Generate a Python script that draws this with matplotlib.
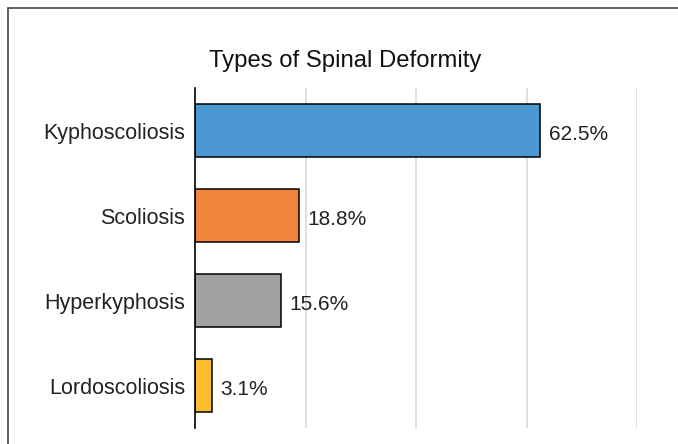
import matplotlib.pyplot as plt
from matplotlib.patches import Rectangle

# Data
categories = ['Kyphoscoliosis', 'Scoliosis', 'Hyperkyphosis', 'Lordoscoliosis']
percent = [62.5, 18.8, 15.6, 3.1]
colors = ['#4B98D3', '#F3843B', '#A2A2A2', '#FCBF2B']

plt.rcParams['font.family'] = ['Liberation Sans', 'DejaVu Sans']

fig = plt.figure(figsize=(6.78, 4.44), dpi=100)
W, H = 678, 444
ax = fig.add_axes([195 / W, 1 - 428 / H, (637 - 195) / W, (428 - 88) / H])

ypos = list(range(len(categories)))
ax.barh(ypos, percent, height=0.62, color=colors, edgecolor='black', linewidth=1.1, zorder=3)

for y, v in zip(ypos, percent):
    ax.annotate(f'{v}%', xy=(v, y), xytext=(6, -3), textcoords='offset points',
                ha='left', va='center', fontsize=15, color='#222222')

ax.set_xlim(0, 80)
ax.set_ylim(len(categories) - 0.5, -0.5)
ax.set_yticks(ypos)
ax.set_yticklabels(categories, fontsize=15.5, color='#222222')
ax.set_xticks([20, 40, 60, 80])
ax.xaxis.grid(True, color='#d9d9d9', linewidth=1.2, zorder=0)
ax.tick_params(axis='both', length=0, pad=7)
ax.tick_params(axis='x', labelbottom=False)
for s in ['top', 'right', 'bottom']:
    ax.spines[s].set_visible(False)
ax.spines['left'].set_linewidth(1.2)
ax.spines['left'].set_zorder(4)

# Title centred on the outer frame
fig.text(345 / W, 1 - 61 / H, 'Types of Spinal Deformity', ha='center', va='center',
         fontsize=17.2, color='#111111')

# Outer frame (cut off at right and bottom)
fig.patches.append(Rectangle((8 / W, -0.1), 1.2, 1 - 8 / H + 0.1, transform=fig.transFigure,
                             fill=False, edgecolor='#555555', linewidth=1.3))

plt.savefig('out.png', dpi=100)
